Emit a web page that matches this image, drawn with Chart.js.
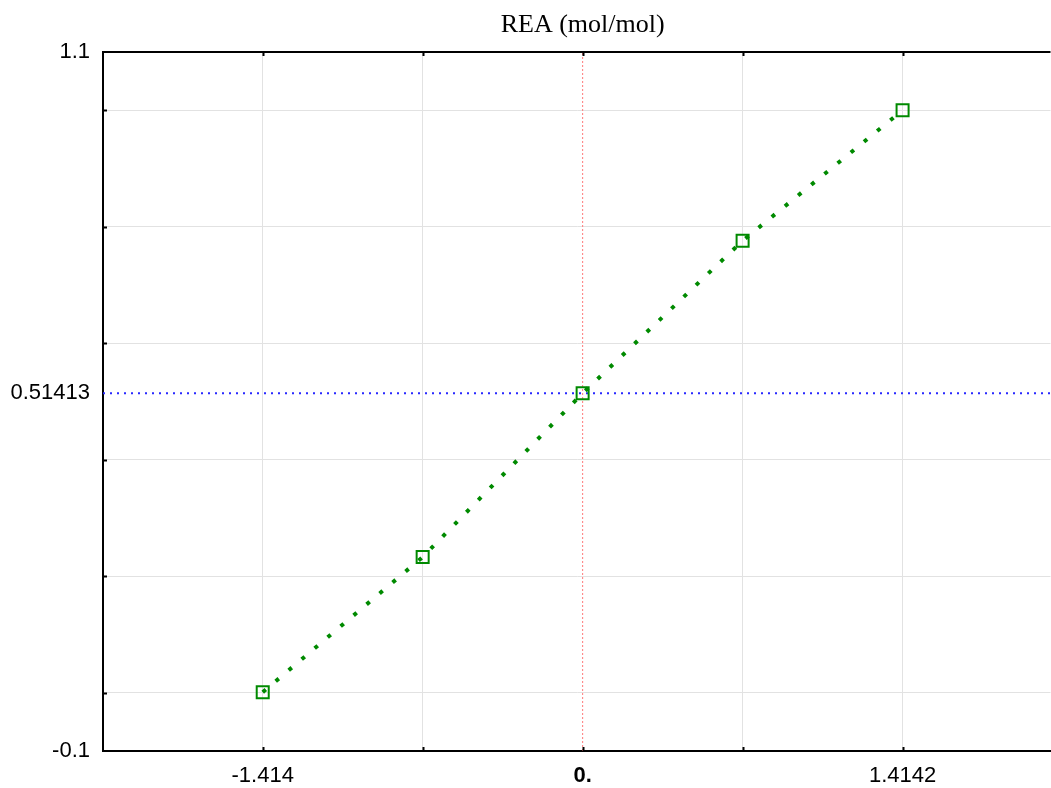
<!DOCTYPE html>
<html>
<head>
<meta charset="utf-8">
<script src="https://cdn.jsdelivr.net/npm/chart.js@4"></script>
<style>
  html, body { margin: 0; padding: 0; background: #fff; overflow: hidden; }
  #wrap { width: 1061px; height: 788px; }
</style>
</head>
<body>
<div id="wrap"><canvas id="reaChart"></canvas></div>
<script>
// 數據
const xValues = [-1.414, -0.7071, 0, 0.7071, 1.4142];
const reaValues = [0.001, 0.233, 0.51413, 0.776, 1.0];
const meanRea = 0.51413;

// 座標軸
const xRange = [-2.12, 2.068];
const yRange = [-0.1, 1.1];
const xTicks = [-1.414, -0.7071, 0, 0.7071, 1.4142];
const xTickLabels = ['-1.414', '', '0.', '', '1.4142'];
const yGridValues = [0, 0.2, 0.4, 0.6, 0.8, 1.0];
const yLabelValues = [-0.1, 0.51413, 1.1];
const yTickLabels = ['-0.1', '0.51413', '1.1'];

const titleText = 'REA (mol/mol)';
const green = '#008a00';

// 標題、上框線、內側刻度
const framePlugin = {
    id: 'frame',
    afterDraw(chart) {
        const { ctx, chartArea: a, scales } = chart;
        ctx.save();
        ctx.strokeStyle = '#000';
        ctx.lineWidth = 2;
        ctx.beginPath();
        ctx.moveTo(a.left - 1, a.top);
        ctx.lineTo(a.right, a.top);
        ctx.stroke();

        ctx.beginPath();
        yGridValues.forEach(v => {
            const y = Math.round(scales.y.getPixelForValue(v)) + 0.5;
            ctx.moveTo(a.left, y);
            ctx.lineTo(a.left + 4, y);
        });
        xTicks.forEach(v => {
            const x = Math.round(scales.x.getPixelForValue(v)) + 0.5;
            ctx.moveTo(x, a.bottom);
            ctx.lineTo(x, a.bottom - 4);
            ctx.moveTo(x, a.top);
            ctx.lineTo(x, a.top + 4);
        });
        ctx.stroke();

        ctx.fillStyle = '#000';
        ctx.font = '26px "Liberation Serif", "Times New Roman", serif';
        ctx.textAlign = 'center';
        ctx.textBaseline = 'alphabetic';
        ctx.fillText(titleText, scales.x.getPixelForValue(0), 32);
        ctx.restore();
    }
};

const ctx = document.getElementById('reaChart').getContext('2d');
const reaChart = new Chart(ctx, {
    type: 'scatter',
    data: {
        datasets: [
            {
                data: xValues.map((x, i) => ({ x: x, y: reaValues[i] })),
                showLine: true,
                borderColor: green,
                borderWidth: 4,
                borderDash: [4, 13],
                pointStyle: 'rect',
                pointRadius: 8.5,
                pointBorderWidth: 2,
                pointBorderColor: green,
                pointBackgroundColor: 'rgba(0,0,0,0)',
                order: 0
            },
            {
                data: [{ x: xRange[0], y: meanRea }, { x: xRange[1], y: meanRea }],
                showLine: true,
                borderColor: '#2828ff',
                borderWidth: 2,
                borderDash: [2, 5],
                pointRadius: 0,
                order: 1
            },
            {
                data: [{ x: 0, y: yRange[0] }, { x: 0, y: yRange[1] }],
                showLine: true,
                borderColor: '#ff7a7a',
                borderWidth: 1,
                borderDash: [2, 2],
                pointRadius: 0,
                order: 2
            }
        ]
    },
    options: {
        responsive: true,
        maintainAspectRatio: false,
        animation: false,
        layout: { padding: { top: 52, left: 0, right: 0, bottom: 0 } },
        plugins: {
            legend: { display: false },
            tooltip: { enabled: false },
            title: { display: false }
        },
        scales: {
            x: {
                type: 'linear',
                min: xRange[0],
                max: xRange[1],
                afterBuildTicks: s => { s.ticks = xTicks.map(v => ({ value: v })); },
                afterFit: s => {
                    s.height = 37;
                    s.paddingLeft = 0;
                    s.paddingRight = 0;
                },
                grid: {
                    color: c => (c.tick && c.tick.value === 0) ? 'rgba(0,0,0,0)' : '#e2e2e2',
                    lineWidth: 1,
                    drawTicks: false
                },
                border: { display: true, color: '#000', width: 2 },
                ticks: {
                    padding: 12,
                    color: '#000',
                    autoSkip: false,
                    maxRotation: 0,
                    font: c => ({
                        family: '"Liberation Sans", Arial, sans-serif',
                        size: 22,
                        weight: (c.tick && c.tick.value === 0) ? 'bold' : 'normal'
                    }),
                    callback: (v, i) => xTickLabels[i]
                }
            },
            y: {
                type: 'linear',
                min: yRange[0],
                max: yRange[1],
                afterBuildTicks: s => {
                    s.ticks = yGridValues.concat(yLabelValues)
                        .sort((a, b) => a - b)
                        .map(v => ({ value: v }));
                },
                afterFit: s => { s.width = 103; },
                grid: {
                    color: c => (c.tick && yGridValues.includes(c.tick.value)) ? '#e2e2e2' : 'rgba(0,0,0,0)',
                    lineWidth: 1,
                    drawTicks: false
                },
                border: { display: true, color: '#000', width: 2 },
                ticks: {
                    padding: 13,
                    color: '#000',
                    autoSkip: false,
                    font: { family: '"Liberation Sans", Arial, sans-serif', size: 22 },
                    callback: v => {
                        const k = yLabelValues.indexOf(v);
                        return k >= 0 ? yTickLabels[k] : '';
                    }
                }
            }
        }
    },
    plugins: [framePlugin]
});
</script>
</body>
</html>
